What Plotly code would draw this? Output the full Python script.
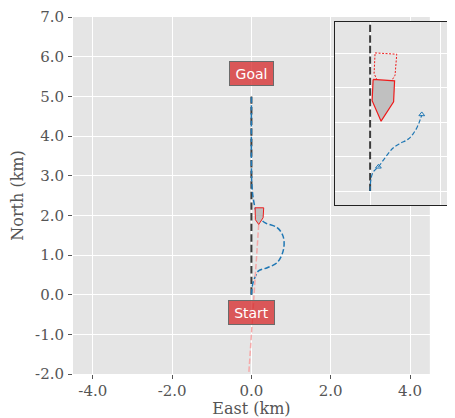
import plotly.graph_objects as go

# ---------------- data ----------------
x_ticks = [-4, -2, 0, 2, 4]
x_ticktext = ["-4.0", "-2.0", "0.0", "2.0", "4.0"]
y_ticks = [-2, -1, 0, 1, 2, 3, 4, 5, 6, 7]
y_ticktext = ["-2.0", "-1.0", "0.0", "1.0", "2.0", "3.0", "4.0", "5.0", "6.0", "7.0"]

ref_x = [0, 0]
ref_y = [0, 5]

path_x = [0.0, 0.03, 0.10, 0.18, 0.40, 0.65, 0.81, 0.80, 0.65, 0.35, 0.22, 0.12, 0.05, 0.01, 0.0, 0.0]
path_y = [0.0, 0.26, 0.46, 0.60, 0.68, 0.81, 1.14, 1.47, 1.69, 1.81, 1.92, 2.10, 2.40, 2.80, 3.20, 5.0]

heading_x = [0.184, -0.10]
heading_y = [1.77, -2.50]

ship_x = [0.093, 0.31, 0.295, 0.184, 0.10, 0.093]
ship_y = [2.19, 2.19, 1.94, 1.77, 1.89, 2.19]

labels = ["Goal", "Start"]
label_x = [0, 0]
label_y = [5.57, -0.45]

# inset (zoomed, local units)
in_ref_x = [0, 0]
in_ref_y = [0, 3]
in_path_x = [0.0, 0.014, 0.047, 0.119, 0.19, 0.261, 0.333, 0.429, 0.547, 0.619, 0.676, 0.714, 0.739]
in_path_y = [0.0, 0.185, 0.28, 0.353, 0.45, 0.548, 0.629, 0.693, 0.756, 0.839, 0.935, 1.032, 1.105]
in_mark_x = [0.119, 0.739]
in_mark_y = [0.353, 1.115]
in_ship_x = [0.043, 0.35, 0.336, 0.157, 0.029, 0.043]
in_ship_y = [1.624, 1.603, 1.298, 1.017, 1.315, 1.624]
in_prev_x = [0.071, 0.381, 0.357, 0.19, 0.057, 0.071]
in_prev_y = [2.01, 1.991, 1.686, 1.41, 1.711, 2.01]
in_xrange = [-0.5, 1.2]
in_yrange = [-0.2, 2.46]

# ---------------- figure ----------------
fig = go.Figure()

fig.add_trace(go.Scatter(x=ref_x, y=ref_y, mode="lines",
                         line=dict(color="#3c3c3c", width=2, dash="7.4px,3.2px"),
                         xaxis="x", yaxis="y", showlegend=False))
fig.add_trace(go.Scatter(x=path_x, y=path_y, mode="lines",
                         line=dict(color="#1f77b4", width=1.5, dash="5.5px,2.4px", shape="spline"),
                         xaxis="x", yaxis="y", showlegend=False))
fig.add_trace(go.Scatter(x=heading_x, y=heading_y, mode="lines",
                         line=dict(color="#f5a9a9", width=1.5, dash="5.5px,2.4px"),
                         xaxis="x", yaxis="y", showlegend=False))
fig.add_trace(go.Scatter(x=ship_x, y=ship_y, mode="lines", fill="toself",
                         fillcolor="#bfbfbf", line=dict(color="#ee1c1c", width=1),
                         xaxis="x", yaxis="y", showlegend=False))

# inset traces
fig.add_trace(go.Scatter(x=in_ref_x, y=in_ref_y, mode="lines",
                         line=dict(color="#3c3c3c", width=2, dash="7.4px,3.2px"),
                         xaxis="x2", yaxis="y2", showlegend=False))
fig.add_trace(go.Scatter(x=in_path_x, y=in_path_y, mode="lines",
                         line=dict(color="#1f77b4", width=1.2, dash="4.5px,2.2px", shape="spline"),
                         xaxis="x2", yaxis="y2", showlegend=False))
fig.add_trace(go.Scatter(x=in_mark_x, y=in_mark_y, mode="markers",
                         marker=dict(symbol="triangle-up-open", size=5, color="#1f77b4",
                                     line=dict(width=1)),
                         xaxis="x2", yaxis="y2", showlegend=False))
fig.add_trace(go.Scatter(x=in_prev_x, y=in_prev_y, mode="lines",
                         line=dict(color="#ee1c1c", width=1, dash="2px,1.5px"),
                         xaxis="x2", yaxis="y2", showlegend=False))
fig.add_trace(go.Scatter(x=in_ship_x, y=in_ship_y, mode="lines", fill="toself",
                         fillcolor="#c0c0c0", line=dict(color="#ee1c1c", width=1.2),
                         xaxis="x2", yaxis="y2", showlegend=False))

serif = "DejaVu Serif"
tick_font = dict(family=serif, size=15, color="#555555")
title_font = dict(family=serif, size=16, color="#555555")

# page body has an 8px margin: lay out in page pixels minus 8
OFF = 8
W, H = 455 - OFF, 418 - OFF
L, R, T, B = 72.5 - OFF, 0, 17 - OFF, 418 - 374.4
pw = W - L - R
ph = H - T - B

def fx(px):
    return (px - OFF - L) / pw

def fy(py):
    return (H - B - (py - OFF)) / ph

fig.update_layout(
    width=W, height=H,
    margin=dict(l=L, r=R, t=T, b=B, pad=0),
    paper_bgcolor="white",
    plot_bgcolor="#E5E5E5",
    font=dict(family=serif, color="#555555"),
    xaxis=dict(domain=[0, fx(429.8)], range=[-4.5, 4.5],
               tickvals=x_ticks, ticktext=x_ticktext,
               showgrid=True, gridcolor="white", gridwidth=1.2, zeroline=False,
               ticks="outside", ticklen=4, tickcolor="#555555", tickwidth=1,
               tickfont=tick_font, automargin=False, ticklabelstandoff=-1,
               title=dict(text="East (km)", font=title_font, standoff=7)),
    yaxis=dict(domain=[0, 1], range=[-2, 7],
               tickvals=y_ticks, ticktext=y_ticktext,
               showgrid=True, gridcolor="white", gridwidth=1.2, zeroline=False,
               ticks="outside", ticklen=4, tickcolor="#555555", tickwidth=1,
               tickfont=tick_font, automargin=False, ticklabelstandoff=1,
               title=dict(text="North (km)", font=title_font, standoff=10)),
    xaxis2=dict(domain=[fx(335), fx(454)], range=in_xrange, anchor="y2",
                dtick=1, tick0=0, showticklabels=False, ticks="",
                showgrid=True, gridcolor="white", gridwidth=1.2, zeroline=False,
                showline=True, mirror=True, linecolor="#222222", linewidth=1),
    yaxis2=dict(domain=[fy(205), fy(22)], range=in_yrange, anchor="x2",
                dtick=0.5, tick0=0, showticklabels=False, ticks="",
                showgrid=True, gridcolor="white", gridwidth=1.2, zeroline=False,
                showline=True, mirror=True, linecolor="#222222", linewidth=1),
    shapes=[dict(type="rect", xref="x2", yref="y2",
                 x0=in_xrange[0], x1=in_xrange[1], y0=in_yrange[0], y1=in_yrange[1],
                 fillcolor="#E5E5E5", line=dict(width=0), layer="below")],
)

label_w = [37, 39]
for t, x, y, w in zip(labels, label_x, label_y, label_w):
    fig.add_annotation(x=x, y=y, xref="x", yref="y", text=t, showarrow=False,
                       font=dict(family="DejaVu Sans", size=14, color="white"),
                       bgcolor="rgba(214,39,40,0.75)", bordercolor="#6a6a6a",
                       borderwidth=1, borderpad=3, width=w, height=17)

fig.write_html("out.html")
